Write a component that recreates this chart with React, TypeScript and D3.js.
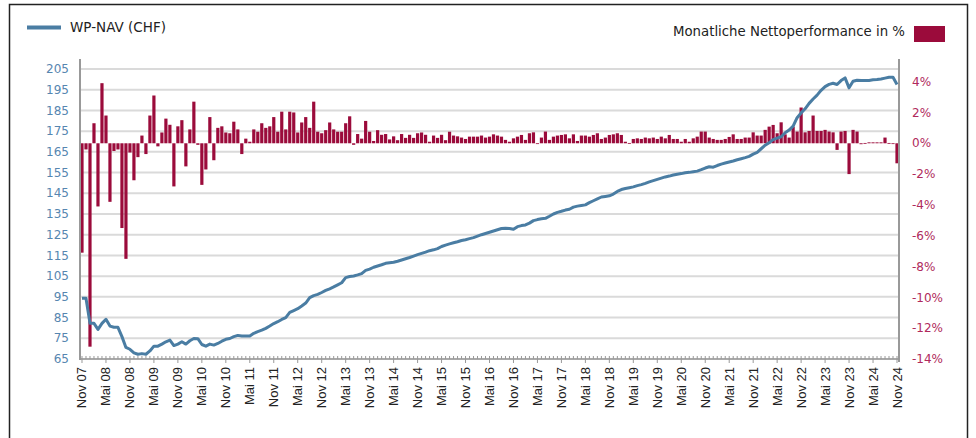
import React from "react";
import * as d3 from "d3";

// monthly net performance in % (Nov 07 .. Nov 24)
const perf = [
  -7.1, -0.4, -13.2, 1.3, -4.1, 3.9, 1.8, -3.8, -0.5, -0.4,
  -5.5, -7.5, -0.6, -2.4, -0.9, 0.5, -0.7, 1.8, 3.1, -0.2,
  0.7, 1.6, 1.2, -2.8, 1.1, 1.5, -1.5, 0.9, 2.7, -0.1,
  -2.7, -1.7, 1.7, -1.1, 1.0, 1.1, 0.7, 0.65, 1.4, 0.9,
  -0.7, 0.3, 0.1, 0.9, 0.75, 1.3, 1.0, 1.1, 1.7, 0.75,
  2.05, 0.9, 2.05, 2.0, 0.7, 1.35, 1.7, 1.0, 2.7, 0.75,
  0.65, 0.85, 1.35, 0.9, 0.75, 0.75, 1.3, 1.75, -0.1, 0.6,
  0.3, 1.45, 0.75, 0.15, 0.85, 0.55, 0.6, 0.25, 0.45, 0.2,
  0.6, 0.35, 0.55, 0.35, 0.65, 0.7, 0.55, 0.1, 0.5, 0.35,
  0.55, 0.2, 0.75, 0.5, 0.45, 0.37, 0.28, 0.43, 0.43, 0.43,
  0.5, 0.37, 0.43, 0.58, 0.5, 0.43, 0.22, 0.1, 0.32, 0.43,
  0.54, 0.22, 0.65, 0.71, -0.05, 0.37, 0.76, 0.22, 0.43, 0.5,
  0.54, 0.58, 0.32, 0.58, 0.15, 0.5, 0.5, 0.43, 0.54, 0.65,
  0.28, 0.37, 0.54, 0.58, 0.65, 0.54, 0.1, 0.02, 0.28, 0.32,
  0.28, 0.37, 0.32, 0.37, 0.28, 0.43, 0.32, 0.54, 0.28, 0.28,
  0.1, 0.28, 0.1, 0.32, 0.43, 0.76, 0.76, 0.37, 0.28, 0.22,
  0.22, 0.28, 0.41, 0.58, 0.28, 0.28, 0.37, 0.37, 0.71, 0.5,
  0.5, 0.87, 1.08, 1.19, 0.65, 1.36, 0.58, 0.37, 1.08, 0.76,
  2.32, 0.71, 0.8, 1.8, 0.8, 0.8, 0.87, 0.76, 0.71, -0.43,
  0.76, 0.8, -2.0, 0.87, 0.76, -0.06, 0.02, 0.06, 0.06, 0.06,
  0.06, 0.37, 0.02, -0.02, -1.3,
];

// WP-NAV (CHF), month end
const nav = [
  94.3, 94.3, 82.2, 82.2, 79.3, 82.2, 84.2, 80.9, 80.3, 80.3,
  75.8, 70.6, 69.7, 68.0, 67.3, 67.6, 67.3, 68.9, 71.2, 71.2,
  72.2, 73.3, 74.1, 71.5, 72.2, 73.3, 72.2, 73.8, 74.9, 74.8,
  72.0, 71.2, 72.2, 71.7, 72.5, 73.6, 74.5, 74.9, 75.8, 76.4,
  76.1, 76.1, 76.1, 77.4, 78.2, 78.9, 79.8, 80.9, 82.1, 83.0,
  84.1, 85.0, 87.5, 88.4, 89.3, 90.6, 92.0, 94.6, 95.6, 96.2,
  97.1, 98.1, 98.9, 99.8, 100.8, 101.8, 104.3, 104.8, 105.1, 105.6,
  106.2, 107.8, 108.4, 109.3, 109.9, 110.5, 111.2, 111.5, 111.7, 112.2,
  112.8, 113.4, 114.0, 114.7, 115.4, 116.0, 116.6, 117.3, 117.7, 118.3,
  119.3, 120.0, 120.6, 121.1, 121.6, 122.2, 122.6, 123.1, 123.6, 124.3,
  125.0, 125.6, 126.2, 126.8, 127.4, 128.0, 128.1, 128.0, 127.6, 128.9,
  129.4, 129.7, 130.6, 131.8, 132.3, 132.7, 132.9, 133.9, 135.0, 135.8,
  136.3, 136.9, 137.3, 138.3, 138.8, 139.1, 139.4, 140.5, 141.4, 142.3,
  143.2, 143.5, 143.8, 144.6, 145.9, 146.8, 147.3, 147.7, 148.1, 148.7,
  149.2, 149.8, 150.5, 151.1, 151.7, 152.3, 152.9, 153.3, 153.8, 154.2,
  154.5, 154.9, 155.1, 155.4, 155.7, 156.4, 157.2, 157.8, 157.6, 158.4,
  159.1, 159.6, 160.1, 160.6, 161.2, 161.7, 162.2, 162.8, 163.9, 164.8,
  166.5, 168.2, 169.4, 170.9, 171.6, 172.3, 174.2, 175.5, 177.4, 181.5,
  183.8, 185.8, 188.4, 190.5, 192.4, 194.7, 196.5, 197.6, 198.1, 197.5,
  199.4, 200.7, 195.9, 199.1, 199.6, 199.4, 199.4, 199.5, 199.8, 199.9,
  200.2, 200.6, 201.0, 201.0, 197.5,
];

// every 6th month gets a label
const tickLabels = [
  "Nov 07", "Mai 08", "Nov 08", "Mai 09", "Nov 09", "Mai 10", "Nov 10",
  "Mai 11", "Nov 11", "Mai 12", "Nov 12", "Mai 13", "Nov 13", "Mai 14",
  "Nov 14", "Mai 15", "Nov 15", "Mai 16", "Nov 16", "Mai 17", "Nov 17",
  "Mai 18", "Nov 18", "Mai 19", "Nov 19", "Mai 20", "Nov 20", "Mai 21",
  "Nov 21", "Mai 22", "Nov 22", "Mai 23", "Nov 23", "Mai 24", "Nov 24",
];

const navTicks = d3.range(65, 206, 10);
const pctTicks = d3.range(-14, 5, 2);

const lineColor = "#4a7da3";
const barColor = "#9b0b3b";

export default function App() {
  const left = 80, right = 899, top = 69, bottom = 359;

  const x = d3.scaleBand().domain(d3.range(nav.length)).range([left, right]).paddingInner(0.2).paddingOuter(0.1);
  const xc = (i) => x(i) + x.bandwidth() / 2;
  const yL = d3.scaleLinear().domain([65, 205]).range([bottom, top]);
  const yR = d3.scaleLinear().domain([-14, 4.82]).range([bottom, top]);

  const line = d3.line().x((d, i) => xc(i)).y((d) => yL(d));

  return (
    <div style={{ position: "fixed", left: 0, top: 0 }}>
      <svg width={976} height={438} style={{ display: "block", background: "#fff" }}>
        {/* frame */}
        <rect x={9.5} y={4.5} width={958} height={460} fill="none" stroke="#222" strokeWidth={1.5} />

        {/* legends */}
        <line x1={27} x2={61} y1={27.5} y2={27.5} stroke={lineColor} strokeWidth={4} />
        <text x={70} y={32} fontFamily="DejaVu Sans, Verdana, sans-serif" fontSize={13.5} fill="#222">WP-NAV (CHF)</text>
        <text x={905} y={36} textAnchor="end" fontFamily="DejaVu Sans, Verdana, sans-serif" fontSize={13.3} fill="#222">Monatliche Nettoperformance in %</text>
        <rect x={914} y={26} width={31} height={16} fill={barColor} />

        {/* grid */}
        {navTicks.map((t) => (
          <line key={t} x1={left} x2={right} y1={yL(t)} y2={yL(t)} stroke="#dadada" strokeWidth={2} />
        ))}

        {/* bars */}
        {perf.map((v, i) => (
          <rect key={i} x={x(i)} width={x.bandwidth()} y={Math.min(yR(v), yR(0))} height={Math.max(0.8, Math.abs(yR(v) - yR(0)))} fill={barColor} />
        ))}

        {/* axes */}
        <line x1={left} x2={left} y1={59} y2={bottom + 1} stroke="#999" strokeWidth={2} />
        <line x1={right} x2={right} y1={59} y2={bottom + 3} stroke="#999" strokeWidth={2} />
        <line x1={left} x2={right} y1={bottom} y2={bottom} stroke="#999" strokeWidth={1.5} />
        {nav.map((d, i) => (
          <line key={i} x1={xc(i)} x2={xc(i)} y1={bottom - 3} y2={i % 6 === 0 ? bottom + 4 : bottom} stroke="#999" strokeWidth={1} />
        ))}

        {/* NAV line */}
        <path d={line(nav)} fill="none" stroke={lineColor} strokeWidth={3} strokeLinejoin="round" />

        {/* left labels */}
        {navTicks.map((t) => (
          <text key={t} x={69} y={yL(t)} dy="0.35em" textAnchor="end" fontFamily="DejaVu Sans, Verdana, sans-serif" fontSize={12} fill="#5686b0">{t}</text>
        ))}
        {/* right labels */}
        {pctTicks.map((t) => (
          <text key={t} x={912} y={yR(t)} dy="0.35em" fontFamily="DejaVu Sans, Verdana, sans-serif" fontSize={12} fill="#b02a5c">{t}%</text>
        ))}
        {/* x labels */}
        {tickLabels.map((l, k) => (
          <text key={l} transform={`translate(${xc(k * 6) + 4.5},${bottom + 8}) rotate(-90)`} textAnchor="end" fontFamily="Liberation Sans, Arial, sans-serif" fontSize={13} fill="#222">{l}</text>
        ))}
      </svg>
    </div>
  );
}
